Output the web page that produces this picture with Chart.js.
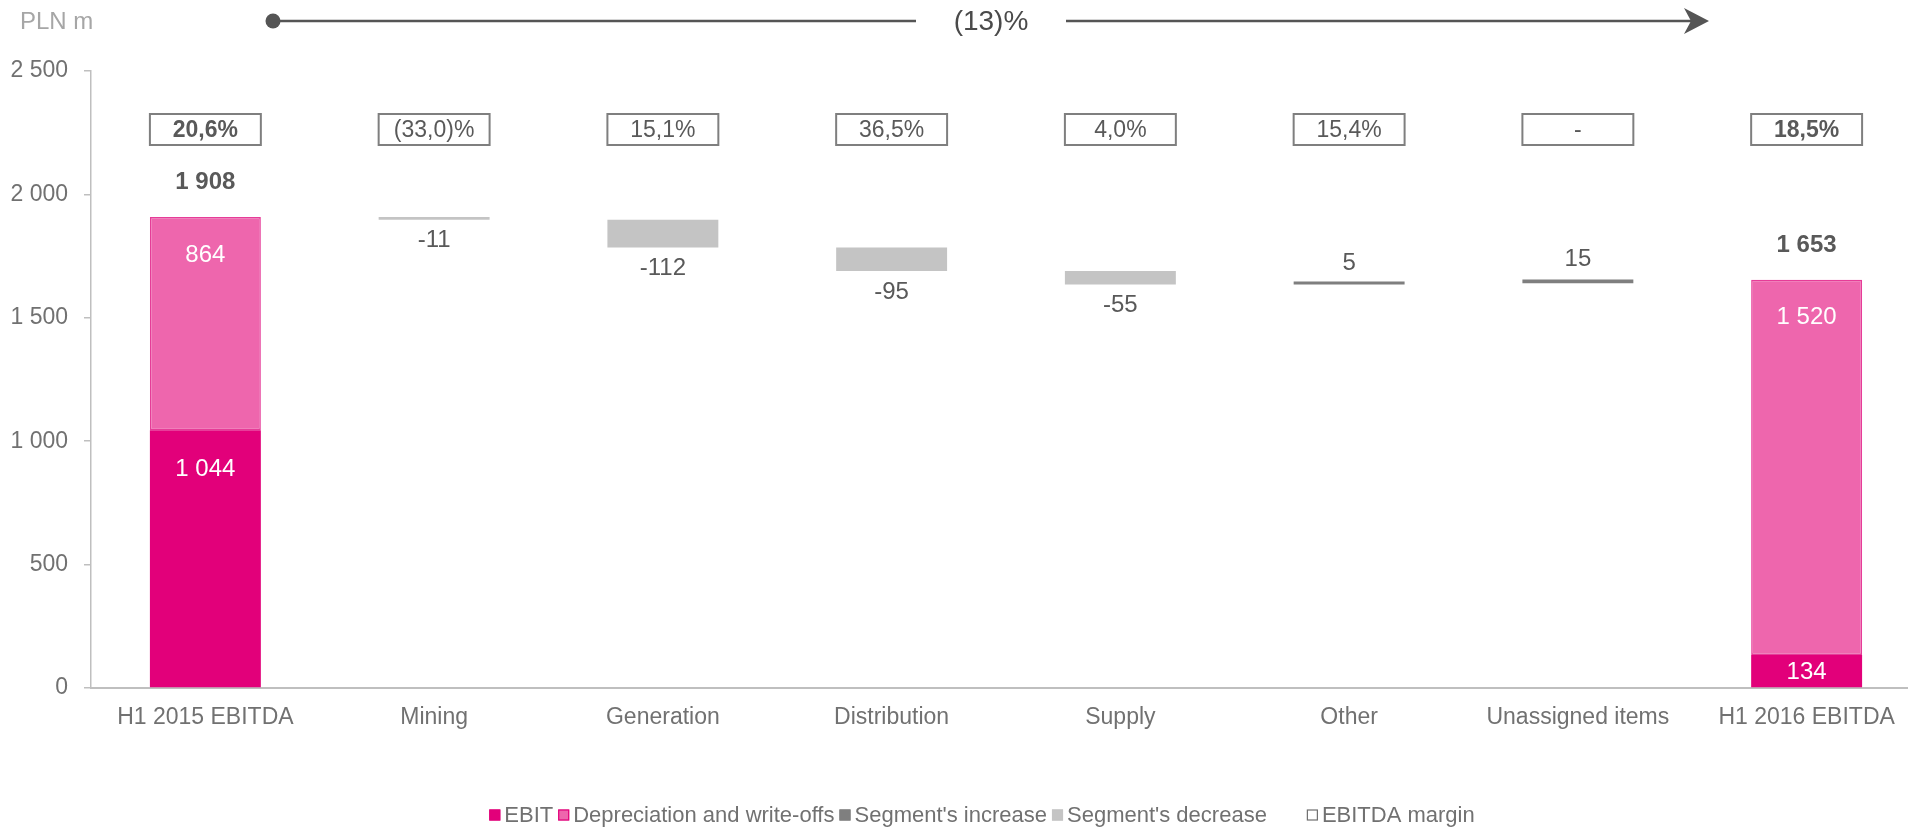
<!DOCTYPE html>
<html>
<head>
<meta charset="utf-8">
<script src="https://cdn.jsdelivr.net/npm/chart.js@4.4.0/dist/chart.umd.min.js"></script>
<style>
  html, body { margin: 0; padding: 0; background: #fff; overflow: hidden; width: 1908px; height: 829px; }
  #wrap { position: relative; width: 1926px; height: 829px; }
  canvas { display: block; }
</style>
</head>
<body>
<div id="wrap"><canvas id="chart" width="1926" height="829"></canvas></div>
<script>
// ---- data ----
const categories = ['H1 2015 EBITDA', 'Mining', 'Generation', 'Distribution', 'Supply', 'Other', 'Unassigned items', 'H1 2016 EBITDA'];
const ebit = [1044, null, null, null, null, null, null, 134];
const depreciation = [864, null, null, null, null, null, null, 1520];
const totals = [1908, null, null, null, null, null, null, 1653];
const segmentChanges = [null, -11, -112, -95, -55, 5, 15, null];
const margins = ['20,6%', '(33,0)%', '15,1%', '36,5%', '4,0%', '15,4%', '-', '18,5%'];
const boldMargins = [true, false, false, false, false, false, false, true];
const yTicks = [0, 500, 1000, 1500, 2000, 2500];
const yTickLabels = ['0', '500', '1 000', '1 500', '2 000', '2 500'];
const unitLabel = 'PLN m';
const overallChange = '(13)%';
const seriesNames = ['EBIT', 'Depreciation and write-offs', "Segment's increase", "Segment's decrease"];
const marginLegend = 'EBITDA margin';

// ---- styles ----
const FONT = '"Liberation Sans", Arial, "Helvetica Neue", sans-serif';
const COL_EBIT = '#E2007A';
const COL_DEP = '#EE66AD';
const COL_DEP_EDGE = '#E63C98';
const COL_INC = '#7F7F7F';
const COL_DEC = '#C4C4C4';
const COL_TEXT = '#595959';
const COL_AXIS_TEXT = '#717171';
const COL_AXIS = '#BFBFBF';
const BAR_SHARE = 0.485;

const fmt = v => {
  const s = String(Math.abs(v)).replace(/\B(?=(\d{3})+(?!\d))/g, ' ');
  return (v < 0 ? '-' : '') + s;
};

// floating ranges for the stacked totals and the bridge steps
const ebitRanges = ebit.map(v => v == null ? null : [0, v]);
const depRanges = depreciation.map((v, i) => v == null ? null : [ebit[i], ebit[i] + v]);
const incRanges = [], decRanges = [];
let level = ebit[0] + depreciation[0];
segmentChanges.forEach((d, i) => {
  if (d == null) { incRanges.push(null); decRanges.push(null); return; }
  const next = level + d;
  incRanges.push(d > 0 ? [level, next] : null);
  decRanges.push(d < 0 ? [next, level] : null);
  level = next;
});

// ---- overlay drawing: margins, value labels, header arrow, legend ----
const overlay = {
  id: 'overlay',
  afterDatasetsDraw(chart) {
    const ctx = chart.ctx;
    const xs = chart.scales.x, ys = chart.scales.y;
    const step = xs.getPixelForValue(1) - xs.getPixelForValue(0);
    const bw = step * BAR_SHARE;
    const area = chart.chartArea;
    ctx.save();
    ctx.textAlign = 'center';
    ctx.textBaseline = 'middle';

    // EBITDA margin boxes
    margins.forEach((m, i) => {
      const cx = xs.getPixelForValue(i);
      const top = area.top + 43, h = 31;
      ctx.strokeStyle = '#7F7F7F';
      ctx.lineWidth = 2;
      ctx.fillStyle = '#fff';
      ctx.fillRect(cx - bw / 2, top, bw, h);
      ctx.strokeRect(cx - bw / 2, top, bw, h);
      ctx.fillStyle = COL_TEXT;
      ctx.font = (boldMargins[i] ? 'bold ' : '') + '23px ' + FONT;
      ctx.fillText(m, cx, top + h / 2 + 1);
    });

    // stacked totals: segment values and bold totals
    ebit.forEach((v, i) => {
      if (v == null) return;
      const cx = xs.getPixelForValue(i);
      const yTop = ys.getPixelForValue(totals[i]);
      ctx.font = 'bold 24px ' + FONT;
      ctx.fillStyle = COL_TEXT;
      ctx.fillText(fmt(totals[i]), cx, yTop - 35);
      ctx.font = '24px ' + FONT;
      ctx.fillStyle = '#fff';
      const depTop = ys.getPixelForValue(ebit[i] + depreciation[i]);
      ctx.fillText(fmt(depreciation[i]), cx, depTop + 38);
      const ebitTop = ys.getPixelForValue(v);
      const ebitBase = ys.getPixelForValue(0);
      if (ebitBase - ebitTop > 60) {
        ctx.fillText(fmt(v), cx, ebitTop + 39);
      } else {
        ctx.fillText(fmt(v), cx, (ebitTop + ebitBase) / 2 + 1);
      }
    });

    // bridge step labels
    segmentChanges.forEach((d, i) => {
      if (d == null) return;
      const r = d > 0 ? incRanges[i] : decRanges[i];
      const cx = xs.getPixelForValue(i);
      ctx.font = '24px ' + FONT;
      ctx.fillStyle = COL_TEXT;
      if (d < 0) ctx.fillText(fmt(d), cx, ys.getPixelForValue(r[0]) + 21);
      else ctx.fillText(fmt(d), cx, ys.getPixelForValue(r[1]) - 20);
    });

    // unit label
    ctx.textAlign = 'left';
    ctx.font = '24px ' + FONT;
    ctx.fillStyle = '#A6A6A6';
    ctx.fillText(unitLabel, 20, 22);

    // overall change arrow
    const ay = 21;
    ctx.strokeStyle = '#555555';
    ctx.fillStyle = '#555555';
    ctx.lineWidth = 2.5;
    ctx.beginPath();
    ctx.arc(273, ay, 7.5, 0, Math.PI * 2);
    ctx.fill();
    ctx.beginPath();
    ctx.moveTo(273, ay); ctx.lineTo(916, ay);
    ctx.moveTo(1066, ay); ctx.lineTo(1696, ay);
    ctx.stroke();
    ctx.beginPath();
    ctx.moveTo(1709, ay);
    ctx.lineTo(1684, ay - 13);
    ctx.lineTo(1691, ay);
    ctx.lineTo(1684, ay + 13);
    ctx.closePath();
    ctx.fill();
    ctx.textAlign = 'center';
    ctx.font = '28px ' + FONT;
    ctx.fillStyle = '#4A4A4A';
    ctx.fillText(overallChange, 991, ay + 1);

    // legend
    const items = [
      { text: seriesNames[0], fill: COL_EBIT, edge: COL_EBIT },
      { text: seriesNames[1], fill: COL_DEP, edge: COL_EBIT },
      { text: seriesNames[2], fill: COL_INC, edge: COL_INC },
      { text: seriesNames[3], fill: COL_DEC, edge: COL_DEC },
      { text: marginLegend, fill: '#fff', edge: '#6F6F6F', gapBefore: 40 }
    ];
    ctx.font = '22px ' + FONT;
    const box = 11, boxGap = 4, itemGap = 5;
    let total = 0;
    items.forEach((it, k) => {
      it.w = ctx.measureText(it.text).width;
      total += box + boxGap + it.w + (k ? (it.gapBefore || itemGap) : 0);
    });
    let lx = 982 - total / 2;
    const ly = 815;
    ctx.textAlign = 'left';
    items.forEach((it, k) => {
      if (k) lx += it.gapBefore || itemGap;
      ctx.fillStyle = it.fill;
      ctx.fillRect(lx, ly - box / 2, box, box);
      ctx.strokeStyle = it.edge;
      ctx.lineWidth = 1.2;
      ctx.strokeRect(lx + 0.5, ly - box / 2 + 0.5, box - 1, box - 1);
      ctx.fillStyle = COL_AXIS_TEXT;
      ctx.fillText(it.text, lx + box + boxGap, ly + 1);
      lx += box + boxGap + it.w;
    });
    ctx.restore();
  }
};

new Chart(document.getElementById('chart'), {
  type: 'bar',
  data: {
    labels: categories,
    datasets: [
      { label: seriesNames[0], data: ebitRanges, backgroundColor: COL_EBIT, borderWidth: 0 },
      { label: seriesNames[1], data: depRanges, backgroundColor: COL_DEP, borderColor: COL_DEP_EDGE, borderWidth: 1.5, borderSkipped: false },
      { label: seriesNames[2], data: incRanges, backgroundColor: COL_INC, borderWidth: 0, minBarLength: 3 },
      { label: seriesNames[3], data: decRanges, backgroundColor: COL_DEC, borderWidth: 0, minBarLength: 2 }
    ]
  },
  options: {
    responsive: false,
    animation: false,
    devicePixelRatio: 1,
    layout: { padding: { top: 71, right: 5, left: 0, bottom: 0 } },
    datasets: { bar: { barPercentage: BAR_SHARE, categoryPercentage: 1, grouped: false } },
    plugins: { legend: { display: false }, tooltip: { enabled: false } },
    scales: {
      x: {
        grid: { color: 'rgba(0,0,0,0)', drawTicks: false },
        border: { display: true, color: COL_AXIS, width: 2 },
        ticks: { font: { size: 23, family: FONT }, color: COL_AXIS_TEXT, padding: 16, maxRotation: 0, autoSkip: false },
        afterFit(s) { s.height = 141; }
      },
      y: {
        min: 0, max: 2500,
        grid: { drawOnChartArea: false, drawTicks: true, tickLength: 7, color: COL_AXIS, lineWidth: 1.5 },
        border: { display: true, color: COL_AXIS, width: 1.5 },
        ticks: {
          font: { size: 23, family: FONT }, color: COL_AXIS_TEXT, padding: 16,
          callback: (v) => yTickLabels[yTicks.indexOf(v)]
        },
        afterBuildTicks(s) { s.ticks = yTicks.map(v => ({ value: v })); },
        afterFit(s) { s.width = 91; }
      }
    }
  },
  plugins: [overlay]
});
</script>
</body>
</html>
